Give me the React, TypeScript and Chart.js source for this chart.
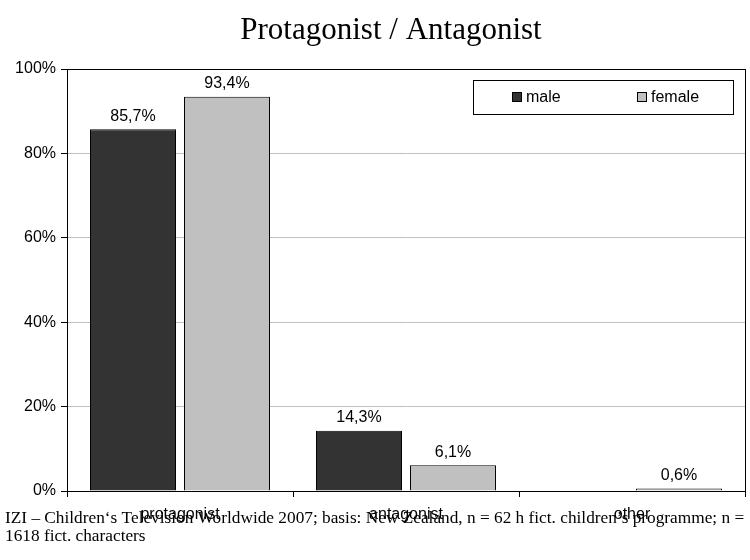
import React, { useEffect, useRef } from "react";
import { Chart, registerables } from "chart.js";

Chart.register(...registerables);

const categories = ["protagonist", "antagonist", "other"];
const maleValues = [85.7, 14.3, 0];
const femaleValues = [93.4, 6.1, 0.6];
const seriesNames = ["male", "female"];
const yTicks = [0, 20, 40, 60, 80, 100];
const titleText = "Protagonist / Antagonist";
const footLines = [
  "IZI – Children‘s Television Worldwide 2007; basis: New Zealand, n = 62 h fict. children’s programme; n =",
  "1618 fict. characters",
];

const SANS = "'Liberation Sans', Arial, sans-serif";
const SERIF = "'Liberation Serif', 'Times New Roman', serif";

const fmt = (v: number) => v.toFixed(1).replace(".", ",") + "%";

const decorPlugin = {
  id: "decor",
  afterDatasetsDraw(chart: any) {
    const ctx = chart.ctx;
    const ca = chart.chartArea;
    ctx.save();
    // frame
    ctx.strokeStyle = "#000";
    ctx.lineWidth = 1;
    ctx.strokeRect(Math.round(ca.left) + 0.5, Math.round(ca.top) + 0.5, Math.round(ca.right - ca.left), Math.round(ca.bottom - ca.top));
    // data labels
    ctx.font = `16px ${SANS}`;
    ctx.fillStyle = "#000";
    ctx.textAlign = "center";
    ctx.textBaseline = "bottom";
    chart.data.datasets.forEach((ds: any, di: number) => {
      const meta = chart.getDatasetMeta(di);
      meta.data.forEach((el: any, i: number) => {
        const v = ds.data[i];
        if (!v) return;
        ctx.fillText(fmt(v), el.x, el.y - 5);
      });
    });
    // legend
    const bx = 473, by = 80, bw = 260, bh = 34;
    ctx.fillStyle = "#fff";
    ctx.fillRect(bx, by, bw, bh);
    ctx.strokeStyle = "#000";
    ctx.strokeRect(bx + 0.5, by + 0.5, bw, bh);
    const items = [
      { x: 512, color: "#333333" },
      { x: 637, color: "#c0c0c0" },
    ];
    ctx.textAlign = "left";
    ctx.textBaseline = "middle";
    items.forEach((it, i) => {
      ctx.fillStyle = it.color;
      ctx.fillRect(it.x, 92, 10, 10);
      ctx.strokeStyle = "#000";
      ctx.strokeRect(it.x + 0.5, 92.5, 9, 9);
      ctx.fillStyle = "#000";
      ctx.fillText(seriesNames[i], it.x + 14, 97.5);
    });
    // title
    ctx.font = `31px ${SERIF}`;
    ctx.textAlign = "center";
    ctx.textBaseline = "middle";
    ctx.fillText(titleText, 391, 31);
    // footnote
    ctx.font = `17.3px ${SERIF}`;
    ctx.textAlign = "left";
    ctx.textBaseline = "middle";
    footLines.forEach((l, i) => ctx.fillText(l, 5, 518 + i * 18, 742));
    ctx.restore();
  },
};

export default function App() {
  const ref = useRef<HTMLCanvasElement>(null);
  useEffect(() => {
    document.body.style.margin = "0";
    const chart = new Chart(ref.current!, {
      type: "bar",
      data: {
        labels: categories,
        datasets: [
          {
            label: seriesNames[0],
            data: maleValues,
            backgroundColor: "#333333",
            borderColor: "#000",
            borderWidth: 1,
          },
          {
            label: seriesNames[1],
            data: femaleValues,
            backgroundColor: "#c0c0c0",
            borderColor: "#000",
            borderWidth: 1,
          },
        ],
      },
      options: {
        responsive: false,
        animation: false,
        layout: { padding: { top: 69, right: 5, left: 0, bottom: 0 } },
        plugins: { legend: { display: false }, title: { display: false }, tooltip: { enabled: false } },
        datasets: { bar: { categoryPercentage: 0.832, barPercentage: 0.915 } },
        scales: {
          x: {
            afterFit: (s: any) => { s.height = 69; },
            grid: { offset: true, drawOnChartArea: false, color: "#000", tickLength: 6 },
            border: { color: "#000" },
            ticks: { color: "#000", font: { family: SANS, size: 16 }, padding: 8 },
          },
          y: {
            min: 0,
            max: 100,
            afterFit: (s: any) => { s.width = 67; },
            afterBuildTicks: (s: any) => { s.ticks = yTicks.map((v) => ({ value: v })); },
            grid: { color: "#c0c0c0", tickColor: "#000", tickLength: 6 },
            border: { color: "#000" },
            ticks: { color: "#000", font: { family: SANS, size: 16 }, padding: 5, callback: (v: any) => `${v}%` },
          },
        },
      },
      plugins: [decorPlugin],
    });
    return () => chart.destroy();
  }, []);
  return <canvas ref={ref} width={750} height={560} style={{ display: "block" }} />;
}
